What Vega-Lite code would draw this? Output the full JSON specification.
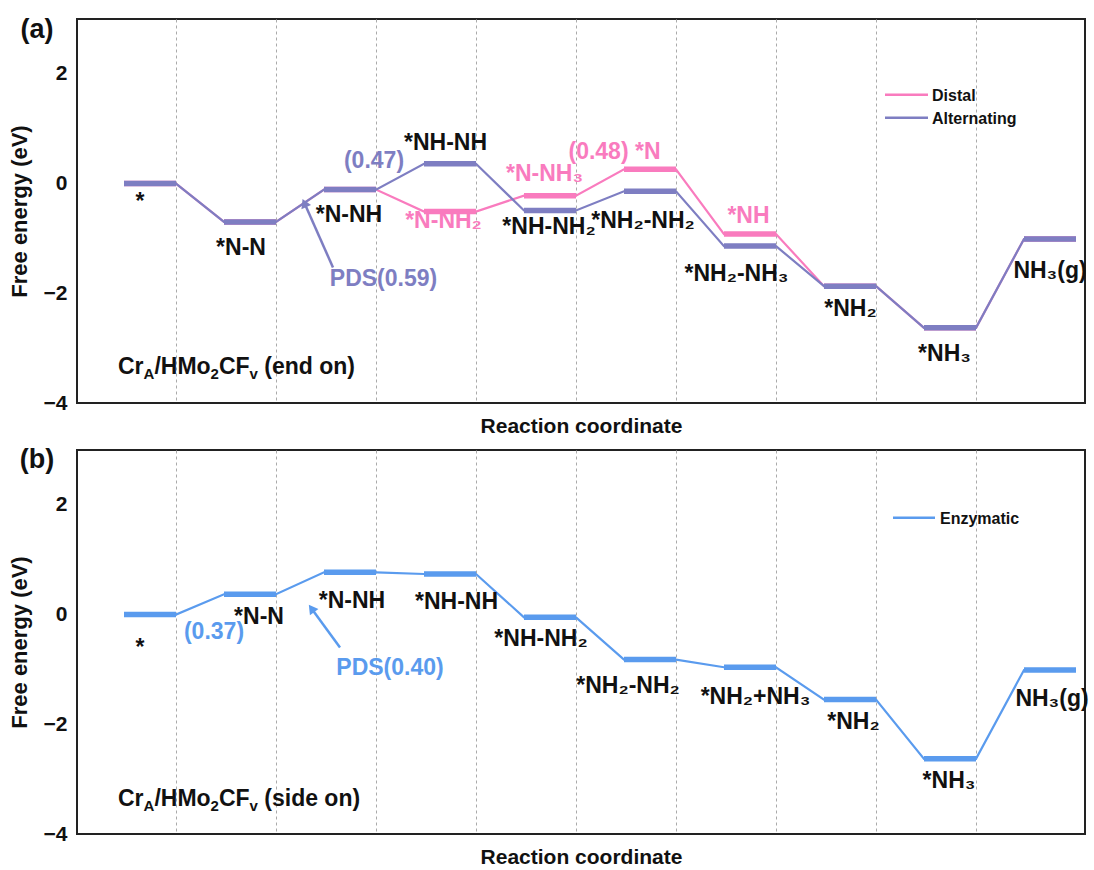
{
  "$schema": "https://vega.github.io/schema/vega-lite/v6.json",
  "autosize": {"type": "pad"},
  "padding": {"left": 7, "top": 14, "right": 4, "bottom": 4},
  "background": "white",
  "config": {
    "font": "Liberation Sans",
    "view": {"stroke": "#222", "strokeWidth": 2},
    "axisY": {"grid": false, "ticks": false, "domain": false, "format": "d", "labelFontSize": 21, "labelFontWeight": "bold", "labelColor": "#111", "labelPadding": 10, "labelFlush": false, "labelOverlap": false, "titleFontSize": 22, "titleFontWeight": "bold", "titleColor": "#111", "titlePadding": 12},
    "axisX": {"grid": true, "gridDash": [3, 3], "gridColor": "#aaa", "gridWidth": 1, "labels": false, "ticks": false, "domain": false, "titleFontSize": 21, "titleFontWeight": "bold", "titleColor": "#111", "titlePadding": 12},
    "text": {"font": "Liberation Sans", "fontWeight": "bold", "fontSize": 23, "baseline": "alphabetic", "align": "center"}
  },
  "datasets": {
    "levA": [
      {"s": "Distal", "lv": 0, "x": 0.48, "y": 0}, {"s": "Distal", "lv": 0, "x": 1, "y": 0},
      {"s": "Distal", "lv": 1, "x": 1.48, "y": -0.70}, {"s": "Distal", "lv": 1, "x": 2, "y": -0.70},
      {"s": "Distal", "lv": 2, "x": 2.48, "y": -0.11}, {"s": "Distal", "lv": 2, "x": 3, "y": -0.11},
      {"s": "Distal", "lv": 3, "x": 3.48, "y": -0.51}, {"s": "Distal", "lv": 3, "x": 4, "y": -0.51},
      {"s": "Distal", "lv": 4, "x": 4.48, "y": -0.22}, {"s": "Distal", "lv": 4, "x": 5, "y": -0.22},
      {"s": "Distal", "lv": 5, "x": 5.48, "y": 0.26}, {"s": "Distal", "lv": 5, "x": 6, "y": 0.26},
      {"s": "Distal", "lv": 6, "x": 6.48, "y": -0.92}, {"s": "Distal", "lv": 6, "x": 7, "y": -0.92},
      {"s": "Distal", "lv": 7, "x": 7.48, "y": -1.87}, {"s": "Distal", "lv": 7, "x": 8, "y": -1.87},
      {"s": "Distal", "lv": 8, "x": 8.48, "y": -2.63}, {"s": "Distal", "lv": 8, "x": 9, "y": -2.63},
      {"s": "Distal", "lv": 9, "x": 9.48, "y": -1.01}, {"s": "Distal", "lv": 9, "x": 10, "y": -1.01},
      {"s": "Alternating", "lv": 0, "x": 0.48, "y": 0}, {"s": "Alternating", "lv": 0, "x": 1, "y": 0},
      {"s": "Alternating", "lv": 1, "x": 1.48, "y": -0.70}, {"s": "Alternating", "lv": 1, "x": 2, "y": -0.70},
      {"s": "Alternating", "lv": 2, "x": 2.48, "y": -0.11}, {"s": "Alternating", "lv": 2, "x": 3, "y": -0.11},
      {"s": "Alternating", "lv": 3, "x": 3.48, "y": 0.36}, {"s": "Alternating", "lv": 3, "x": 4, "y": 0.36},
      {"s": "Alternating", "lv": 4, "x": 4.48, "y": -0.49}, {"s": "Alternating", "lv": 4, "x": 5, "y": -0.49},
      {"s": "Alternating", "lv": 5, "x": 5.48, "y": -0.14}, {"s": "Alternating", "lv": 5, "x": 6, "y": -0.14},
      {"s": "Alternating", "lv": 6, "x": 6.48, "y": -1.14}, {"s": "Alternating", "lv": 6, "x": 7, "y": -1.14},
      {"s": "Alternating", "lv": 7, "x": 7.48, "y": -1.87}, {"s": "Alternating", "lv": 7, "x": 8, "y": -1.87},
      {"s": "Alternating", "lv": 8, "x": 8.48, "y": -2.63}, {"s": "Alternating", "lv": 8, "x": 9, "y": -2.63},
      {"s": "Alternating", "lv": 9, "x": 9.48, "y": -1.01}, {"s": "Alternating", "lv": 9, "x": 10, "y": -1.01}
    ],
    "levB": [
      {"s": "Enzymatic", "lv": 0, "x": 0.48, "y": 0}, {"s": "Enzymatic", "lv": 0, "x": 1, "y": 0},
      {"s": "Enzymatic", "lv": 1, "x": 1.48, "y": 0.37}, {"s": "Enzymatic", "lv": 1, "x": 2, "y": 0.37},
      {"s": "Enzymatic", "lv": 2, "x": 2.48, "y": 0.77}, {"s": "Enzymatic", "lv": 2, "x": 3, "y": 0.77},
      {"s": "Enzymatic", "lv": 3, "x": 3.48, "y": 0.74}, {"s": "Enzymatic", "lv": 3, "x": 4, "y": 0.74},
      {"s": "Enzymatic", "lv": 4, "x": 4.48, "y": -0.05}, {"s": "Enzymatic", "lv": 4, "x": 5, "y": -0.05},
      {"s": "Enzymatic", "lv": 5, "x": 5.48, "y": -0.82}, {"s": "Enzymatic", "lv": 5, "x": 6, "y": -0.82},
      {"s": "Enzymatic", "lv": 6, "x": 6.48, "y": -0.96}, {"s": "Enzymatic", "lv": 6, "x": 7, "y": -0.96},
      {"s": "Enzymatic", "lv": 7, "x": 7.48, "y": -1.55}, {"s": "Enzymatic", "lv": 7, "x": 8, "y": -1.55},
      {"s": "Enzymatic", "lv": 8, "x": 8.48, "y": -2.63}, {"s": "Enzymatic", "lv": 8, "x": 9, "y": -2.63},
      {"s": "Enzymatic", "lv": 9, "x": 9.48, "y": -1.01}, {"s": "Enzymatic", "lv": 9, "x": 10, "y": -1.01}
    ],
    "legA": [
      {"s": "Distal", "x": 8.09, "x2": 8.52, "y": 1.618, "lx": 8.56, "ly": 1.51},
      {"s": "Alternating", "x": 8.09, "x2": 8.52, "y": 1.2, "lx": 8.56, "ly": 1.092}
    ],
    "legB": [
      {"s": "Enzymatic", "x": 8.17, "x2": 8.59, "y": 1.764, "lx": 8.64, "ly": 1.656}
    ],
    "labA": [
      {"t": "*", "x": 0.64, "y": -0.47, "g": "k"},
      {"t": "*N-N", "x": 1.65, "y": -1.31, "g": "k"},
      {"t": "*N-NH", "x": 2.73, "y": -0.70, "g": "k"},
      {"t": "*NH-NH", "x": 3.695, "y": 0.605, "g": "k"},
      {"t": "*NH-NH₂", "x": 4.73, "y": -0.92, "g": "k"},
      {"t": "*NH₂-NH₂", "x": 5.67, "y": -0.81, "g": "k"},
      {"t": "*NH₂-NH₃", "x": 6.605, "y": -1.77, "g": "k"},
      {"t": "*NH₂", "x": 7.745, "y": -2.41, "g": "k"},
      {"t": "*NH₃", "x": 8.685, "y": -3.23, "g": "k"},
      {"t": "NH₃(g)", "x": 9.74, "y": -1.72, "g": "k"},
      {"t": "*N-NH₂", "x": 3.675, "y": -0.81, "g": "p"},
      {"t": "*N-NH₃", "x": 4.685, "y": 0.045, "g": "p"},
      {"t": "(0.48) *N", "x": 5.385, "y": 0.445, "g": "p"},
      {"t": "*NH", "x": 6.725, "y": -0.72, "g": "p"},
      {"t": "(0.47)", "x": 2.98, "y": 0.29, "g": "v"},
      {"t": "PDS(0.59)", "x": 3.075, "y": -1.87, "g": "v"}
    ],
    "labB": [
      {"t": "*", "x": 0.64, "y": -0.73, "g": "k"},
      {"t": "*N-N", "x": 1.83, "y": -0.17, "g": "k"},
      {"t": "*N-NH", "x": 2.76, "y": 0.12, "g": "k"},
      {"t": "*NH-NH", "x": 3.805, "y": 0.10, "g": "k"},
      {"t": "*NH-NH₂", "x": 4.65, "y": -0.57, "g": "k"},
      {"t": "*NH₂-NH₂", "x": 5.52, "y": -1.43, "g": "k"},
      {"t": "*NH₂+NH₃", "x": 6.795, "y": -1.63, "g": "k"},
      {"t": "*NH₂", "x": 7.775, "y": -2.08, "g": "k"},
      {"t": "*NH₃", "x": 8.73, "y": -3.17, "g": "k"},
      {"t": "NH₃(g)", "x": 9.76, "y": -1.66, "g": "k"},
      {"t": "(0.37)", "x": 1.38, "y": -0.44, "g": "b"},
      {"t": "PDS(0.40)", "x": 3.14, "y": -1.10, "g": "b"}
    ],
    "tagA": [{"t": "(a)", "x": -0.39, "y": 2.655}],
    "tagB": [{"t": "(b)", "x": -0.39, "y": 2.67}],
    "crA": [
      {"t": "Cr", "x": 0.42, "y": -3.473}, {"t": "/HMo", "x": 0.784, "y": -3.473},
      {"t": "CF", "x": 1.429, "y": -3.473}, {"t": "(end on)", "x": 1.883, "y": -3.473}
    ],
    "crAsub": [
      {"t": "A", "x": 0.676, "y": -3.564}, {"t": "2", "x": 1.346, "y": -3.564}, {"t": "v", "x": 1.736, "y": -3.564}
    ],
    "crB": [
      {"t": "Cr", "x": 0.42, "y": -3.49}, {"t": "/HMo", "x": 0.784, "y": -3.49},
      {"t": "CF", "x": 1.429, "y": -3.49}, {"t": "(side on)", "x": 1.883, "y": -3.49}
    ],
    "crBsub": [
      {"t": "A", "x": 0.676, "y": -3.58}, {"t": "2", "x": 1.346, "y": -3.58}, {"t": "v", "x": 1.736, "y": -3.58}
    ],
    "arrA": [{"x": 2.57, "y": -1.53, "x2": 2.284, "y2": -0.355}],
    "arrB": [{"x": 2.64, "y": -0.60, "x2": 2.355, "y2": 0.111}]
  },
  "resolve": {"scale": {"color": "independent"}},
  "vconcat": [
    {
      "width": 1008,
      "height": 384,
      "layer": [
        {
          "data": {"name": "levA"},
          "transform": [{"filter": "datum.s === 'Distal'"}],
          "mark": {"type": "line", "strokeWidth": 2.2},
          "encoding": {
            "x": {"field": "x", "type": "quantitative", "scale": {"domain": [0.01, 10.09], "nice": false, "zero": false}, "axis": {"values": [1, 2, 3, 4, 5, 6, 7, 8, 9]}, "title": "Reaction coordinate"},
            "y": {"field": "y", "type": "quantitative", "scale": {"domain": [-4, 3], "nice": false, "zero": false}, "axis": {"values": [-4, -2, 0, 2]}, "title": "Free energy (eV)"},
            "color": {"field": "s", "type": "nominal", "scale": {"domain": ["Distal", "Alternating"], "range": ["#F97BBE", "#7E7EC2"]}, "legend": null}
          }
        },
        {
          "data": {"name": "levA"},
          "transform": [{"filter": "datum.s === 'Distal'"}],
          "mark": {"type": "line", "strokeWidth": 5.5, "strokeCap": "butt"},
          "encoding": {
            "x": {"field": "x", "type": "quantitative"},
            "y": {"field": "y", "type": "quantitative"},
            "detail": {"field": "lv"},
            "color": {"field": "s", "type": "nominal"}
          }
        },
        {
          "data": {"name": "levA"},
          "transform": [{"filter": "datum.s === 'Alternating'"}],
          "mark": {"type": "line", "strokeWidth": 2.2},
          "encoding": {
            "x": {"field": "x", "type": "quantitative"},
            "y": {"field": "y", "type": "quantitative"},
            "color": {"field": "s", "type": "nominal"}
          }
        },
        {
          "data": {"name": "levA"},
          "transform": [{"filter": "datum.s === 'Alternating'"}],
          "mark": {"type": "line", "strokeWidth": 5.5, "strokeCap": "butt"},
          "encoding": {
            "x": {"field": "x", "type": "quantitative"},
            "y": {"field": "y", "type": "quantitative"},
            "detail": {"field": "lv"},
            "color": {"field": "s", "type": "nominal"}
          }
        },
        {
          "data": {"name": "legA"},
          "mark": {"type": "rule", "strokeWidth": 2.5},
          "encoding": {
            "x": {"field": "x", "type": "quantitative"},
            "x2": {"field": "x2"},
            "y": {"field": "y", "type": "quantitative"},
            "color": {"field": "s", "type": "nominal"}
          }
        },
        {
          "data": {"name": "legA"},
          "mark": {"type": "text", "align": "left", "fontSize": 16, "color": "#111"},
          "encoding": {
            "x": {"field": "lx", "type": "quantitative"},
            "y": {"field": "ly", "type": "quantitative"},
            "text": {"field": "s"}
          }
        },
        {
          "data": {"name": "arrA"},
          "mark": {"type": "rule", "color": "#7E7EC2", "strokeWidth": 2.5},
          "encoding": {
            "x": {"field": "x", "type": "quantitative"},
            "y": {"field": "y", "type": "quantitative"},
            "x2": {"field": "x2"},
            "y2": {"field": "y2"}
          }
        },
        {
          "data": {"name": "arrA"},
          "mark": {"type": "point", "shape": "triangle-up", "filled": true, "color": "#7E7EC2", "size": 110, "angle": 336, "opacity": 1},
          "encoding": {
            "x": {"field": "x2", "type": "quantitative"},
            "y": {"field": "y2", "type": "quantitative"}
          }
        },
        {
          "data": {"name": "labA"},
          "transform": [{"filter": "datum.g === 'k'"}],
          "mark": {"type": "text", "color": "#111"},
          "encoding": {"x": {"field": "x", "type": "quantitative"}, "y": {"field": "y", "type": "quantitative"}, "text": {"field": "t"}}
        },
        {
          "data": {"name": "labA"},
          "transform": [{"filter": "datum.g === 'p'"}],
          "mark": {"type": "text", "color": "#F97BBE"},
          "encoding": {"x": {"field": "x", "type": "quantitative"}, "y": {"field": "y", "type": "quantitative"}, "text": {"field": "t"}}
        },
        {
          "data": {"name": "labA"},
          "transform": [{"filter": "datum.g === 'v'"}],
          "mark": {"type": "text", "color": "#7E7EC2"},
          "encoding": {"x": {"field": "x", "type": "quantitative"}, "y": {"field": "y", "type": "quantitative"}, "text": {"field": "t"}}
        },
        {
          "data": {"name": "crA"},
          "mark": {"type": "text", "color": "#111", "align": "left"},
          "encoding": {"x": {"field": "x", "type": "quantitative"}, "y": {"field": "y", "type": "quantitative"}, "text": {"field": "t"}}
        },
        {
          "data": {"name": "crAsub"},
          "mark": {"type": "text", "color": "#111", "align": "left", "fontSize": 15},
          "encoding": {"x": {"field": "x", "type": "quantitative"}, "y": {"field": "y", "type": "quantitative"}, "text": {"field": "t"}}
        },
        {
          "data": {"name": "tagA"},
          "mark": {"type": "text", "color": "#111", "fontSize": 27},
          "encoding": {"x": {"field": "x", "type": "quantitative"}, "y": {"field": "y", "type": "quantitative"}, "text": {"field": "t"}}
        }
      ]
    },
    {
      "width": 1008,
      "height": 384,
      "layer": [
        {
          "data": {"name": "levB"},
          "mark": {"type": "line", "strokeWidth": 2.2},
          "encoding": {
            "x": {"field": "x", "type": "quantitative", "scale": {"domain": [0.01, 10.09], "nice": false, "zero": false}, "axis": {"values": [1, 2, 3, 4, 5, 6, 7, 8, 9]}, "title": "Reaction coordinate"},
            "y": {"field": "y", "type": "quantitative", "scale": {"domain": [-4, 3], "nice": false, "zero": false}, "axis": {"values": [-4, -2, 0, 2]}, "title": "Free energy (eV)"},
            "color": {"field": "s", "type": "nominal", "scale": {"domain": ["Enzymatic"], "range": ["#5A9BEE"]}, "legend": null}
          }
        },
        {
          "data": {"name": "levB"},
          "mark": {"type": "line", "strokeWidth": 5.5, "strokeCap": "butt"},
          "encoding": {
            "x": {"field": "x", "type": "quantitative"},
            "y": {"field": "y", "type": "quantitative"},
            "detail": {"field": "lv"},
            "color": {"field": "s", "type": "nominal"}
          }
        },
        {
          "data": {"name": "legB"},
          "mark": {"type": "rule", "strokeWidth": 2.5},
          "encoding": {
            "x": {"field": "x", "type": "quantitative"},
            "x2": {"field": "x2"},
            "y": {"field": "y", "type": "quantitative"},
            "color": {"field": "s", "type": "nominal"}
          }
        },
        {
          "data": {"name": "legB"},
          "mark": {"type": "text", "align": "left", "fontSize": 16, "color": "#111"},
          "encoding": {
            "x": {"field": "lx", "type": "quantitative"},
            "y": {"field": "ly", "type": "quantitative"},
            "text": {"field": "s"}
          }
        },
        {
          "data": {"name": "arrB"},
          "mark": {"type": "rule", "color": "#5A9BEE", "strokeWidth": 2.5},
          "encoding": {
            "x": {"field": "x", "type": "quantitative"},
            "y": {"field": "y", "type": "quantitative"},
            "x2": {"field": "x2"},
            "y2": {"field": "y2"}
          }
        },
        {
          "data": {"name": "arrB"},
          "mark": {"type": "point", "shape": "triangle-up", "filled": true, "color": "#5A9BEE", "size": 110, "angle": 324, "opacity": 1},
          "encoding": {
            "x": {"field": "x2", "type": "quantitative"},
            "y": {"field": "y2", "type": "quantitative"}
          }
        },
        {
          "data": {"name": "labB"},
          "transform": [{"filter": "datum.g === 'k'"}],
          "mark": {"type": "text", "color": "#111"},
          "encoding": {"x": {"field": "x", "type": "quantitative"}, "y": {"field": "y", "type": "quantitative"}, "text": {"field": "t"}}
        },
        {
          "data": {"name": "labB"},
          "transform": [{"filter": "datum.g === 'b'"}],
          "mark": {"type": "text", "color": "#5A9BEE"},
          "encoding": {"x": {"field": "x", "type": "quantitative"}, "y": {"field": "y", "type": "quantitative"}, "text": {"field": "t"}}
        },
        {
          "data": {"name": "crB"},
          "mark": {"type": "text", "color": "#111", "align": "left"},
          "encoding": {"x": {"field": "x", "type": "quantitative"}, "y": {"field": "y", "type": "quantitative"}, "text": {"field": "t"}}
        },
        {
          "data": {"name": "crBsub"},
          "mark": {"type": "text", "color": "#111", "align": "left", "fontSize": 15},
          "encoding": {"x": {"field": "x", "type": "quantitative"}, "y": {"field": "y", "type": "quantitative"}, "text": {"field": "t"}}
        },
        {
          "data": {"name": "tagB"},
          "mark": {"type": "text", "color": "#111", "fontSize": 27},
          "encoding": {"x": {"field": "x", "type": "quantitative"}, "y": {"field": "y", "type": "quantitative"}, "text": {"field": "t"}}
        }
      ]
    }
  ],
  "spacing": 8
}
